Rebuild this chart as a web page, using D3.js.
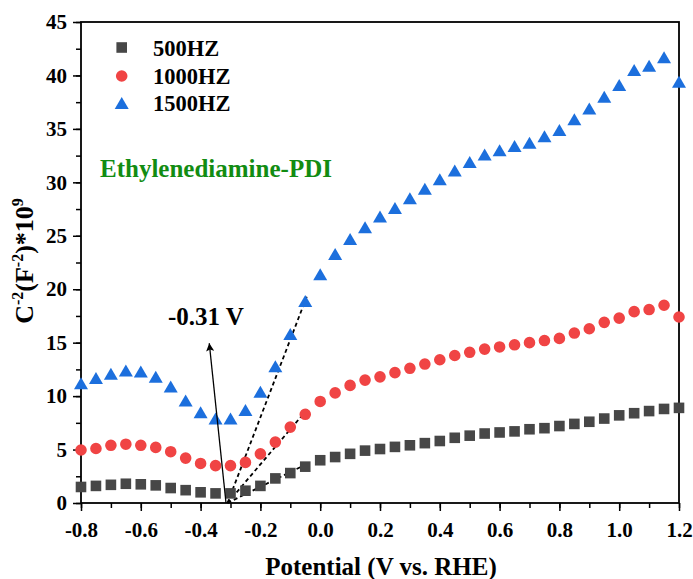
<!DOCTYPE html>
<html>
<head>
<meta charset="utf-8">
<script src="https://cdn.jsdelivr.net/npm/d3@7"></script>
<style>
  body { margin: 0; background: #fff; }
  svg text { font-family: "Liberation Serif", "Times New Roman", serif; font-weight: bold; }
</style>
</head>
<body>
<script>
// potential values (V vs. RHE)
var potential = [-0.80, -0.75, -0.70, -0.65, -0.60, -0.55, -0.50, -0.45, -0.40, -0.35,
                 -0.30, -0.25, -0.20, -0.15, -0.10, -0.05, 0.00, 0.05, 0.10, 0.15,
                 0.20, 0.25, 0.30, 0.35, 0.40, 0.45, 0.50, 0.55, 0.60, 0.65,
                 0.70, 0.75, 0.80, 0.85, 0.90, 0.95, 1.00, 1.05, 1.10, 1.15, 1.20];
// C^-2 values (*10^9)
var hz500 = [1.5, 1.6, 1.7, 1.8, 1.75, 1.65, 1.4, 1.2, 1.0, 0.9,
             0.9, 1.15, 1.6, 2.3, 2.8, 3.4, 4.0, 4.3, 4.6, 4.9,
             5.05, 5.25, 5.4, 5.6, 5.8, 6.1, 6.3, 6.5, 6.6, 6.7,
             6.9, 7.0, 7.2, 7.4, 7.6, 7.9, 8.2, 8.4, 8.6, 8.8, 8.9];
var hz1000 = [4.96, 5.1, 5.4, 5.5, 5.4, 5.2, 4.8, 4.2, 3.7, 3.5,
              3.5, 3.8, 4.6, 5.7, 7.1, 8.3, 9.5, 10.3, 11.0, 11.5,
              11.8, 12.2, 12.6, 13.0, 13.4, 13.8, 14.1, 14.4, 14.6, 14.8,
              15.0, 15.2, 15.4, 15.9, 16.3, 16.9, 17.3, 17.9, 18.1, 18.5, 17.4];
var hz1500 = [11.2, 11.7, 12.1, 12.4, 12.3, 11.8, 10.9, 9.6, 8.5, 7.9,
              7.9, 8.7, 10.4, 12.8, 15.8, 18.9, 21.4, 23.3, 24.7, 25.8,
              26.8, 27.6, 28.5, 29.4, 30.3, 31.1, 31.9, 32.6, 33.0, 33.4,
              33.7, 34.3, 34.9, 35.9, 36.9, 38.0, 39.1, 40.5, 40.9, 41.7, 39.4];
var seriesNames = ["500HZ", "1000HZ", "1500HZ"];
var xTicks = [-0.8, -0.6, -0.4, -0.2, 0.0, 0.2, 0.4, 0.6, 0.8, 1.0, 1.2];
var yTicks = [0, 5, 10, 15, 20, 25, 30, 35, 40, 45];
// tangent lines: intercept point and end points [potential, value]
var intercept = [-0.31, 0];
var tangentEnds = [[-0.045, 19.3], [-0.04, 8.87], [-0.04, 3.72]];
var arrowLine = [[-0.315, 0], [-0.371, 14.95]];

var colors = ["#474747", "#f04444", "#1c6fdd"];
var shapes = ["square", "circle", "triangle"];

var width = 693, height = 579;
var svg = d3.select("body").append("svg")
    .attr("width", width)
    .attr("height", height);

var x = d3.scaleLinear().domain([-0.8, 1.2]).range([81, 679]);
var y = d3.scaleLinear().domain([0, 45]).range([503, 22]);

// arrow marker
svg.append("defs").append("marker")
    .attr("id", "arrow")
    .attr("viewBox", "0 0 10 10")
    .attr("refX", 10).attr("refY", 5)
    .attr("markerWidth", 15).attr("markerHeight", 8)
    .attr("markerUnits", "userSpaceOnUse")
    .attr("orient", "auto")
    .append("path")
    .attr("d", "M0,0 L10,5 L0,10 L2,5 Z")
    .attr("fill", "#000");

// minor ticks
svg.append("g")
    .attr("transform", "translate(0," + y(0) + ")")
    .call(d3.axisBottom(x).tickValues(d3.range(-0.8, 1.21, 0.1)).tickSize(5).tickFormat(""))
    .call(function(g){ g.select(".domain").remove(); g.selectAll("line").attr("stroke-width", 1.5); });
svg.append("g")
    .attr("transform", "translate(" + x(-0.8) + ",0)")
    .call(d3.axisLeft(y).tickValues(d3.range(0, 45.1, 2.5)).tickSize(5).tickFormat(""))
    .call(function(g){ g.select(".domain").remove(); g.selectAll("line").attr("stroke-width", 1.5); });

// major ticks with labels
var xAxis = svg.append("g")
    .attr("transform", "translate(0," + y(0) + ")")
    .call(d3.axisBottom(x).tickValues(xTicks).tickSize(8).tickPadding(11).tickFormat(d3.format(".1f")));
xAxis.select(".domain").remove();
xAxis.selectAll("line").attr("stroke-width", 1.5);
xAxis.selectAll("text").attr("font-size", 21).attr("fill", "#000")
    .attr("font-family", "Liberation Serif").attr("font-weight", "bold")
    .text(function(d){ return d3.format(".1f")(d).replace("\u2212", "-"); });

var yAxis = svg.append("g")
    .attr("transform", "translate(" + x(-0.8) + ",0)")
    .call(d3.axisLeft(y).tickValues(yTicks).tickSize(8).tickPadding(6));
yAxis.select(".domain").remove();
yAxis.selectAll("line").attr("stroke-width", 1.5);
yAxis.selectAll("text").attr("font-size", 21).attr("fill", "#000")
    .attr("font-family", "Liberation Serif").attr("font-weight", "bold");

// frame
svg.append("rect")
    .attr("x", x(-0.8)).attr("y", y(45))
    .attr("width", x(1.2) - x(-0.8)).attr("height", y(0) - y(45))
    .attr("fill", "none").attr("stroke", "#000").attr("stroke-width", 1.8);

// tangent lines
svg.selectAll(".tangent")
    .data(tangentEnds)
    .enter().append("line")
    .attr("class", "tangent")
    .attr("x1", x(intercept[0])).attr("y1", y(intercept[1]))
    .attr("x2", function(d){ return x(d[0]); })
    .attr("y2", function(d){ return y(d[1]); })
    .attr("stroke", "#000").attr("stroke-width", 1.8)
    .attr("stroke-dasharray", "4,3");

// markers
function symbolPath(shape){
    if (shape == "square") return "M-5.3,-5.3H5.3V5.3H-5.3Z";
    if (shape == "circle") return d3.symbol().type(d3.symbolCircle).size(Math.PI * 5.8 * 5.8)();
    return "M0,-6L7,6L-7,6Z";
}
var allSeries = [hz500, hz1000, hz1500];
allSeries.forEach(function(vals, s){
    svg.append("g").selectAll("path")
        .data(vals)
        .enter().append("path")
        .attr("d", symbolPath(shapes[s]))
        .attr("transform", function(d, i){ return "translate(" + x(potential[i]) + "," + y(d) + ")"; })
        .attr("fill", colors[s]);
});

// arrow and label
svg.append("line")
    .attr("x1", x(arrowLine[0][0])).attr("y1", y(arrowLine[0][1]))
    .attr("x2", x(arrowLine[1][0])).attr("y2", y(arrowLine[1][1]))
    .attr("stroke", "#000").attr("stroke-width", 1.3)
    .attr("marker-end", "url(#arrow)");
svg.append("text")
    .attr("x", 168).attr("y", 325)
    .attr("font-size", 25)
    .text("-0.31 V");

// legend
var legend = svg.append("g");
seriesNames.forEach(function(name, i){
    var ly = [47.5, 76, 103][i];
    legend.append("path")
        .attr("d", symbolPath(shapes[i]))
        .attr("transform", "translate(121.7," + ly + ")")
        .attr("fill", colors[i]);
    legend.append("text")
        .attr("x", 153).attr("y", ly + 8)
        .attr("font-size", 22.5)
        .text(name);
});

svg.append("text")
    .attr("x", 100).attr("y", 177)
    .attr("font-size", 25)
    .attr("fill", "#128c12")
    .text("Ethylenediamine-PDI");

// axis titles
svg.append("text")
    .attr("x", 381).attr("y", 575)
    .attr("text-anchor", "middle")
    .attr("font-size", 25)
    .text("Potential (V vs. RHE)");

var yTitle = svg.append("text")
    .attr("transform", "translate(33,261) rotate(-90)")
    .attr("text-anchor", "middle")
    .attr("font-size", 26);
yTitle.append("tspan").text("C");
yTitle.append("tspan").attr("font-size", 16).attr("dy", -10).text("-2");
yTitle.append("tspan").attr("dy", 10).text("(F");
yTitle.append("tspan").attr("font-size", 16).attr("dy", -10).text("-2");
yTitle.append("tspan").attr("dy", 10).text(")*10");
yTitle.append("tspan").attr("font-size", 16).attr("dy", -10).text("9");
</script>
</body>
</html>
